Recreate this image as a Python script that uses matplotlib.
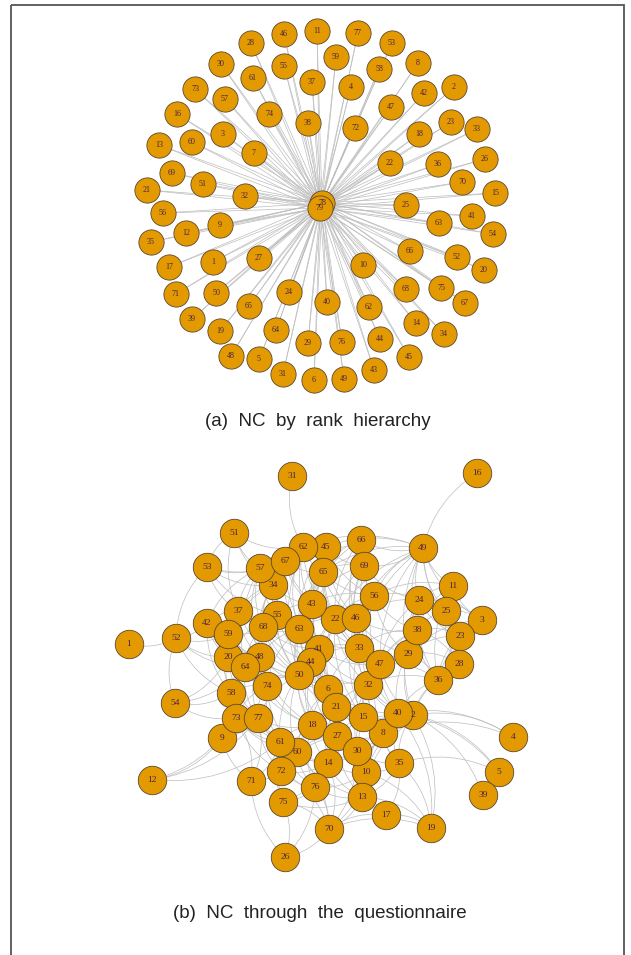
import matplotlib
matplotlib.use('Agg')
import matplotlib.pyplot as plt
import numpy as np
from matplotlib.path import Path
from matplotlib.collections import PathCollection, LineCollection
from matplotlib.patches import Rectangle

# ---- panel (a): NC by rank hierarchy (star around nodes 78/79) ----
a_ids = list(range(1, 80))
a_x = [213, 454, 223, 351, 259, 314, 254, 418, 220, 363, 317, 186, 159, 416, 495, 177,
       169, 419, 220, 484, 147, 390, 451, 289, 406, 485, 259, 251, 308, 221, 283, 245,
       477, 444, 151, 438, 312, 308, 192, 327, 472, 424, 374, 380, 409, 284, 391, 231,
       344, 216, 203, 457, 392, 493, 284, 163, 225, 379, 336, 192, 253, 369, 439, 276,
       249, 410, 465, 406, 172, 462, 176, 355, 195, 269, 441, 342, 358, 322, 320]
a_y = [262, 87, 134, 87, 359, 380, 153, 63, 225, 265, 31, 233, 145, 323, 193, 114,
       267, 134, 331, 270, 190, 163, 122, 292, 205, 159, 258, 43, 343, 64, 374, 196,
       129, 334, 242, 164, 82, 123, 319, 302, 216, 93, 370, 339, 357, 34, 107, 356,
       379, 293, 184, 257, 43, 234, 66, 213, 99, 69, 57, 142, 78, 307, 223, 330,
       306, 251, 303, 289, 173, 182, 294, 128, 89, 114, 288, 342, 33, 203, 208]
a_hubs = [78, 79]

# ---- panel (b): NC through the questionnaire ----
b_ids = [1, 2, 3, 4, 5, 6, 8, 9, 10, 11, 12, 13, 14, 15, 16, 17, 18, 19, 20, 21, 22,
         23, 24, 25, 26, 27, 28, 29, 30, 31, 32, 33, 34, 35, 36, 37, 38, 39, 40, 41,
         42, 43, 44, 45, 46, 47, 48, 49, 50, 51, 52, 53, 54, 55, 56, 57, 58, 59, 60,
         61, 62, 63, 64, 65, 66, 67, 68, 69, 70, 71, 72, 73, 74, 75, 76, 77]
b_x = [129, 413, 482, 513, 499, 328, 383, 222, 366, 453, 152, 362, 328, 363, 477, 386,
       312, 431, 228, 336, 335, 460, 419, 446, 285, 337, 459, 408, 357, 292, 368, 359,
       273, 399, 438, 238, 417, 483, 398, 319, 207, 312, 311, 326, 356, 380, 260, 423,
       299, 234, 176, 207, 175, 277, 374, 260, 231, 228, 297, 280, 303, 299, 245, 323,
       361, 285, 263, 364, 329, 251, 281, 236, 267, 283, 315, 258]
b_y = [644, 715, 620, 737, 772, 689, 733, 738, 772, 586, 780, 797, 763, 717, 473, 815,
       725, 828, 657, 707, 619, 636, 600, 611, 857, 736, 664, 654, 751, 476, 685, 648,
       585, 763, 680, 611, 630, 795, 713, 649, 623, 604, 662, 547, 618, 664, 657, 548,
       675, 533, 638, 567, 703, 615, 596, 568, 693, 634, 752, 742, 547, 629, 667, 572,
       540, 561, 627, 566, 829, 781, 771, 718, 686, 802, 787, 718]
b_edges = """
31-62 16-49 51-62 51-57 51-37 51-34 51-53 53-52 53-57 53-37 53-34 53-55 53-67
1-52 52-54 52-59 52-20 52-42 52-64 52-58 54-58 54-73 54-20 54-64
12-9 12-73 12-77 12-61 9-73 9-71 9-77 9-58 71-26 71-73 71-61 71-72 71-77
26-75 26-76 26-70 4-2 4-40 4-8 5-2 5-35 5-40 39-2
19-2 19-40 19-70 19-17 19-13 19-35 19-10 17-70 17-35 17-13
70-13 70-76 70-75 70-14 70-10 70-72 70-60 70-30
62-45 62-67 62-65 62-57 62-43 62-34 62-63 45-65 45-66 45-69 45-43 45-22 45-67
66-69 66-49 66-56 66-65 66-46 69-49 69-56 69-65 69-22 69-46 69-24 69-43
67-57 67-34 67-65 67-55 67-43 67-63 57-34 57-37 57-55 57-68 57-42
34-55 34-37 34-43 34-63 34-68 65-43 65-22 65-63 65-46 65-56
49-56 49-24 49-11 49-25 49-3 49-45 49-65 49-22 49-46 49-38 49-23 49-62
11-24 11-25 11-3 11-23 11-38 11-56 3-25 3-23 3-28 3-24 3-36
24-25 24-38 24-56 24-46 24-29 24-23 25-23 25-38 25-28
23-28 23-38 23-36 23-29 28-36 28-38 28-29 28-2
36-29 36-2 36-47 36-40 36-32 56-46 56-22 56-33 56-38 56-43
43-22 43-63 43-55 43-41 43-46 43-33 22-46 22-63 22-33 22-41 22-44 22-47
46-33 46-38 46-47 46-29 38-29 38-47 38-33 29-47 29-32 29-2 29-40
33-47 33-41 33-32 33-6 33-44 47-32 47-40 47-2 47-15
37-42 37-59 37-55 37-68 37-20 42-59 42-20 42-48
59-20 59-68 59-48 59-64 59-58 55-68 55-63 55-48 55-41
68-63 68-48 68-64 68-74 68-50 63-41 63-44 63-50 63-48
20-64 20-48 20-58 20-74 48-64 48-74 48-50 48-58 64-58 64-74 64-73
41-44 41-50 41-6 41-32 44-50 44-6 44-21 44-18
50-74 50-6 50-21 50-18 50-77 74-58 74-73 74-77 74-18 74-61
58-73 58-77 73-77 73-61 73-72 77-61 77-18 77-60
32-6 32-21 32-15 32-40 32-2 32-8 6-21 6-15 6-18 6-27
21-15 21-18 21-27 21-30 21-8 15-40 15-8 15-27 15-30 15-10
40-2 40-8 40-35 2-8 2-35 18-27 18-60 18-61 18-14 18-30
8-30 8-35 8-10 27-30 27-14 27-60 27-10 27-13
61-60 61-72 61-76 60-72 60-14 60-76 72-75 72-76 75-76 75-14
76-14 76-13 14-30 14-10 14-13 30-10 30-13 30-35 10-13 10-35 13-35
62-50 45-41 65-6 43-21 22-15 46-32 55-74 63-6 37-50 57-63 34-48 67-41
66-33 69-47 56-29 24-2 11-36 3-29 20-50 59-74 42-58 48-18 64-77 74-60
50-61 41-18 44-27 6-30 21-10 32-30 40-10 33-15 47-8 58-61 73-60 77-72
61-75 18-76 27-76 30-76 2-13 2-10 40-13
62-41 62-22 62-55 45-63 45-46 45-56 67-68 67-22 57-48 57-64 34-59 34-50
65-41 65-44 65-33 43-44 43-50 43-6 22-6 22-32 22-21 46-41 46-15 46-40
56-47 56-32 69-33 66-22 66-43 49-29 49-47 49-33 24-47 24-36 38-36 38-32
55-50 55-44 55-20 68-41 68-44 68-6 63-33 63-21 63-18 63-74 37-48 37-64
42-64 59-50 20-77 48-77 48-6 64-50 64-18 41-21 41-15 41-47 44-32 44-15
50-27 50-60 6-8 6-40 6-60 21-14 21-60 21-40 32-27 32-35 15-18 15-14
18-72 27-72 27-8 30-40 30-2 8-13 61-14 60-13 72-14 76-10 75-13 77-14
"""

node_fill = '#E39A00'
node_edge = '#5a4630'
label_col = '#4a1f45'
edge_col = '#bdbdbd'

fig = plt.figure(figsize=(6.31, 9.55), dpi=100)
ax = fig.add_axes([0, 0, 1, 1])
ax.set_xlim(0, 631)
ax.set_ylim(955, 0)
ax.axis('off')

# panel a: straight spokes from the hubs
pa = dict(zip(a_ids, zip(a_x, a_y)))
spokes = []
for h in a_hubs:
    for n in a_ids:
        if n not in a_hubs:
            spokes.append([pa[h], pa[n]])
ax.add_collection(LineCollection(spokes, colors=edge_col, linewidths=0.5, zorder=1))
ax.scatter(a_x, a_y, s=330, c=node_fill, edgecolors=node_edge, linewidths=0.6, zorder=2)
for n, x, y in zip(a_ids, a_x, a_y):
    ax.text(x, y, str(n), ha='center', va='center', fontsize=5.8,
            family='Liberation Serif', color=label_col, zorder=3)

# panel b: curved edges
pb = dict(zip(b_ids, zip(b_x, b_y)))
paths = []
for pair in b_edges.split():
    i, j = [int(v) for v in pair.split('-')]
    p0 = np.array(pb[i], float)
    p1 = np.array(pb[j], float)
    d = p1 - p0
    ctrl = (p0 + p1) / 2 + 0.2 * np.array([-d[1], d[0]])
    paths.append(Path([p0, ctrl, p1], [Path.MOVETO, Path.CURVE3, Path.CURVE3]))
ax.add_collection(PathCollection(paths, facecolors='none', edgecolors=edge_col,
                                 linewidths=0.5, zorder=1))
ax.scatter(b_x, b_y, s=420, c=node_fill, edgecolors=node_edge, linewidths=0.6, zorder=2)
for n, x, y in zip(b_ids, b_x, b_y):
    ax.text(x, y, str(n), ha='center', va='center', fontsize=6.8,
            family='Liberation Serif', color=label_col, zorder=3)

# frame and captions
ax.add_patch(Rectangle((11, 5), 613, 970, fill=False, edgecolor='#555555', linewidth=1.3))
ax.text(318, 421, '(a)  NC  by  rank  hierarchy', ha='center', va='center', fontsize=13.5,
        family='Liberation Sans', color='#222222')
ax.text(320, 913, '(b)  NC  through  the  questionnaire', ha='center', va='center',
        fontsize=13.5, family='Liberation Sans', color='#222222')

fig.savefig('out.png', dpi=100)
